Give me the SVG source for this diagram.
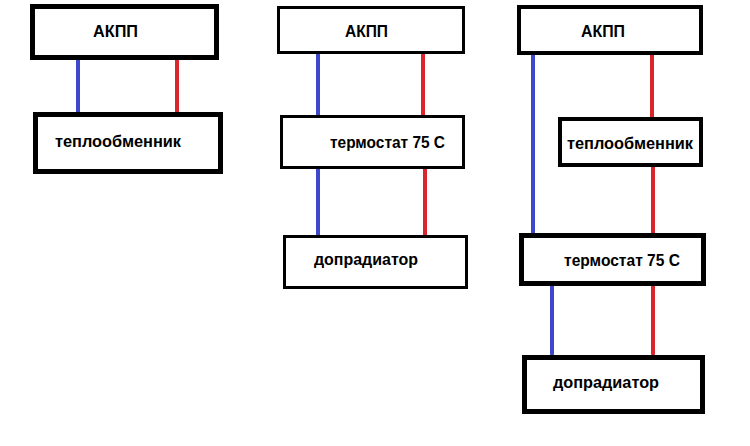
<svg xmlns="http://www.w3.org/2000/svg" width="750" height="446" viewBox="0 0 750 446">
<style>
.box{fill:#fff;stroke:#000}
.t{font-family:"Liberation Sans",Arial,sans-serif;font-weight:bold;font-size:16px;fill:#000}
.b{stroke:#3f48cc;stroke-width:4;stroke-linecap:round}
.r{stroke:#d9262d;stroke-width:4;stroke-linecap:round}
</style>
<rect width="750" height="446" fill="#fff"/>
<g id="connectors">
<line class="b" x1="78" y1="58" x2="78" y2="113"/>
<line class="r" x1="177" y1="58" x2="177" y2="113"/>
<line class="b" x1="318" y1="54" x2="318" y2="115"/>
<line class="r" x1="423" y1="54" x2="423" y2="115"/>
<line class="b" x1="318" y1="169" x2="318" y2="235"/>
<line class="r" x1="425" y1="169" x2="425" y2="235"/>
<line class="b" x1="533" y1="54" x2="533" y2="234"/>
<line class="r" x1="652" y1="54" x2="652" y2="117"/>
<line class="r" x1="653" y1="166" x2="653" y2="233"/>
<line class="b" x1="552" y1="285" x2="552" y2="354"/>
<line class="r" x1="653" y1="285" x2="653" y2="354"/>
</g>
<g id="akpp1"><rect class="box" x="32.5" y="6.5" width="184" height="51" stroke-width="5"/><text class="t" x="93" y="37" textLength="45" lengthAdjust="spacingAndGlyphs">АКПП</text></g>
<g id="teplo1"><rect class="box" x="35.5" y="114.5" width="185" height="57" stroke-width="5"/><text class="t" x="55" y="147" textLength="126" lengthAdjust="spacingAndGlyphs">теплообменник</text></g>
<g id="akpp2"><rect class="box" x="278.5" y="7.5" width="185" height="45" stroke-width="3"/><text class="t" x="345" y="37" textLength="43" lengthAdjust="spacingAndGlyphs">АКПП</text></g>
<g id="termo2"><rect class="box" x="281.5" y="116.5" width="182" height="51" stroke-width="3"/><text class="t" x="330" y="148" textLength="115" lengthAdjust="spacingAndGlyphs">термостат 75 С</text></g>
<g id="doprad2"><rect class="box" x="284.5" y="236.5" width="182" height="51" stroke-width="3"/><text class="t" x="314" y="265" textLength="104" lengthAdjust="spacingAndGlyphs">допрадиатор</text></g>
<g id="akpp3"><rect class="box" x="519" y="7" width="182" height="46" stroke-width="4"/><text class="t" x="581" y="37" textLength="44" lengthAdjust="spacingAndGlyphs">АКПП</text></g>
<g id="teplo3"><rect class="box" x="560" y="119" width="141" height="46" stroke-width="4"/><text class="t" x="567" y="149" textLength="126" lengthAdjust="spacingAndGlyphs">теплообменник</text></g>
<g id="termo3"><rect class="box" x="521.5" y="235.5" width="182" height="48" stroke-width="5"/><text class="t" x="564" y="266" textLength="116" lengthAdjust="spacingAndGlyphs">термостат 75 С</text></g>
<g id="doprad3"><rect class="box" x="524.5" y="357.5" width="178" height="54" stroke-width="5"/><text class="t" x="553" y="388" textLength="106" lengthAdjust="spacingAndGlyphs">допрадиатор</text></g>
</svg>
